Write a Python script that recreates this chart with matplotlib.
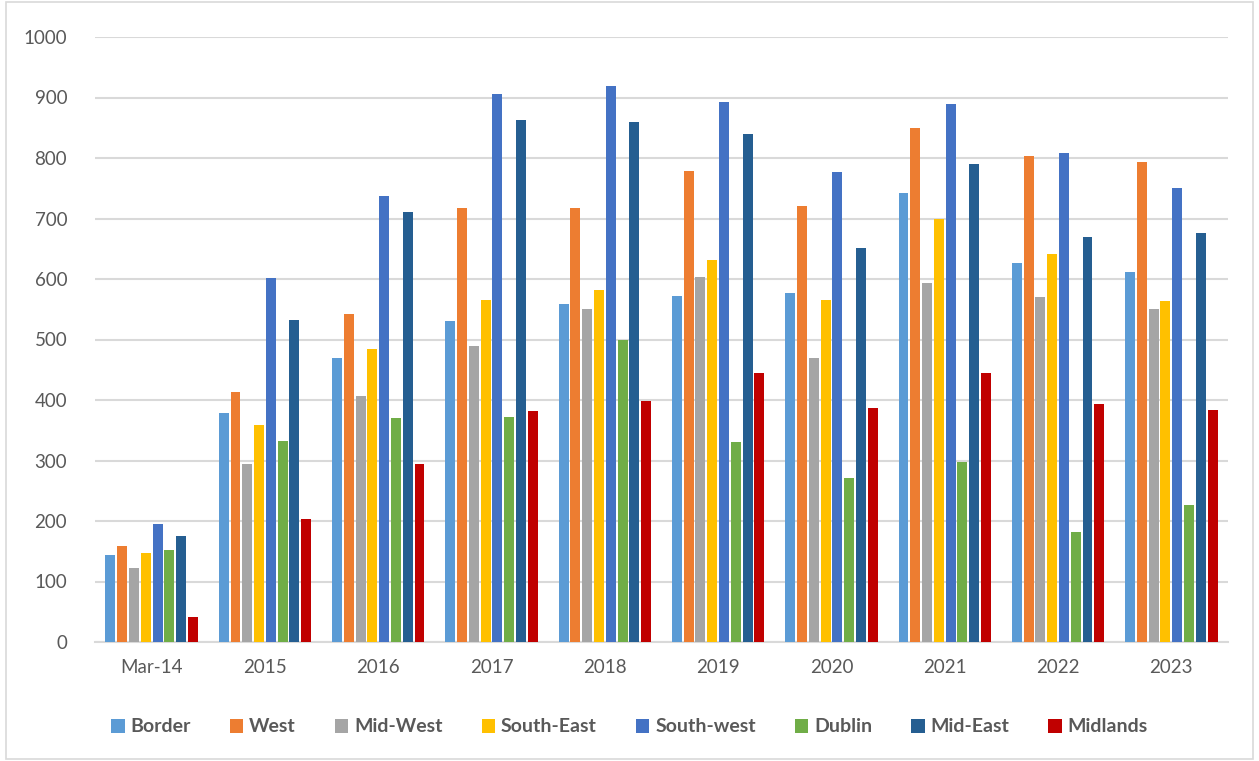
import matplotlib.pyplot as plt
import numpy as np

plt.rcParams['font.family'] = ['Lato', 'DejaVu Sans']

years = ["Mar-14", "2015", "2016", "2017", "2018", "2019", "2020", "2021", "2022", "2023"]
border = [143, 378, 470, 531, 558, 572, 577, 742, 626, 611]
west = [158, 413, 542, 717, 717, 778, 721, 849, 803, 793]
mid_west = [122, 294, 406, 489, 550, 603, 469, 593, 571, 551]
south_east = [147, 359, 484, 565, 581, 631, 566, 699, 642, 563]
south_west = [195, 602, 738, 906, 919, 892, 777, 890, 808, 750]
dublin = [152, 333, 370, 372, 499, 330, 271, 298, 181, 227]
mid_east = [175, 533, 710, 862, 860, 839, 651, 790, 670, 676]
midlands = [42, 203, 294, 382, 398, 445, 386, 444, 394, 383]

series = [
    ("Border", border, "#5b9bd5"),
    ("West", west, "#ed7d31"),
    ("Mid-West", mid_west, "#a5a5a5"),
    ("South-East", south_east, "#ffc000"),
    ("South-west", south_west, "#4472c4"),
    ("Dublin", dublin, "#70ad47"),
    ("Mid-East", mid_east, "#255e91"),
    ("Midlands", midlands, "#c00000"),
]

fig = plt.figure(figsize=(12.59, 7.61), dpi=100)
ax = fig.add_axes([95 / 1259, 1 - 642 / 761, 1133 / 1259, 605 / 761])

x = np.arange(len(years))
slot = 0.104
width = 0.088
for i, (name, vals, col) in enumerate(series):
    ax.bar(x + (i - 3.5) * slot, vals, width, color=col, label=name, zorder=3)

ax.set_xlim(-0.5, len(years) - 0.5)
ax.set_ylim(0, 1000)
ax.set_yticks(range(0, 1001, 100))
ax.set_xticks(x)
ax.set_xticklabels(years)
ax.grid(axis="y", color="#d9d9d9", lw=1.5, zorder=0)
for s in ["left", "right", "top"]:
    ax.spines[s].set_visible(False)
ax.spines["bottom"].set_color("#d9d9d9")
ax.spines["bottom"].set_linewidth(1.5)
ax.tick_params(axis="both", length=0, colors="#595959", labelsize=13.5)
ax.tick_params(axis="y", pad=20)
ax.tick_params(axis="x", pad=12)

leg = fig.legend(loc="center", bbox_to_anchor=(0.5, 1 - 727 / 761), ncol=8, frameon=False,
                 prop={"weight": "bold", "size": 14}, handlelength=0.7, handleheight=0.7,
                 handletextpad=0.3, columnspacing=2.0)
for t in leg.get_texts():
    t.set_color("#595959")

fig.patches.append(plt.Rectangle((6 / 1259, 0.003), 1 - 12 / 1259, 0.994, transform=fig.transFigure,
                                 fill=False, edgecolor="#d9d9d9", lw=1.2))

fig.savefig("out.png", dpi=100)
